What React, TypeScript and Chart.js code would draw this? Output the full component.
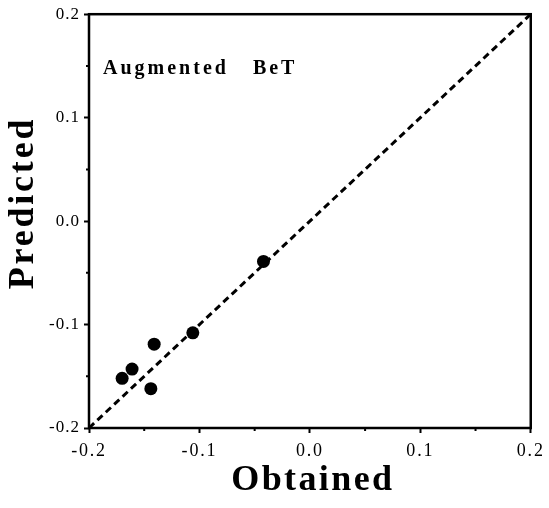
import React, { useEffect, useRef } from 'react';
import { Chart, registerables } from 'chart.js';

Chart.register(...registerables);

// ---- data ----
const obtained = [-0.042, -0.106, -0.141, -0.161, -0.170, -0.144];
const predicted = [-0.039, -0.108, -0.119, -0.143, -0.152, -0.162];
const identityLine = [-0.2, 0.2];
const axisMin = -0.2;
const axisMax = 0.2;
const majorStep = 0.1;
const minorTicks = [-0.15, -0.05, 0.05, 0.15];
const xTitle = 'Obtained';
const yTitle = 'Predicted';
const panelLabel = 'Augmented   BeT';

const SERIF = '"Liberation Serif", "Times New Roman", serif';

function fmt(v: number): string {
  if (Math.abs(v) < 1e-9) return '0.0';
  return v.toFixed(1);
}

function patchLabels(scale: any, spacing: string) {
  if (!scale || scale.__patched) return;
  const orig = scale.drawLabels.bind(scale);
  scale.drawLabels = (area: any) => {
    const c = scale.ctx as CanvasRenderingContext2D;
    c.save();
    (c as any).letterSpacing = spacing;
    orig(area);
    c.restore();
  };
  scale.__patched = true;
}

const decorPlugin = {
  id: 'decor',
  beforeDraw(chart: any) {
    patchLabels(chart.scales.x, '1.8px');
    patchLabels(chart.scales.y, '1px');
  },
  afterDraw(chart: any) {
    const ctx = chart.ctx as CanvasRenderingContext2D;
    const a = chart.chartArea;
    const xs = chart.scales.x;
    const ys = chart.scales.y;
    ctx.save();
    ctx.strokeStyle = '#000';
    ctx.lineWidth = 2.5;
    ctx.strokeRect(a.left, a.top, a.right - a.left, a.bottom - a.top);

    // minor ticks
    ctx.lineWidth = 2;
    ctx.beginPath();
    minorTicks.forEach((v) => {
      const px = xs.getPixelForValue(v);
      ctx.moveTo(px, a.bottom);
      ctx.lineTo(px, a.bottom + 3);
      const py = ys.getPixelForValue(v);
      ctx.moveTo(a.left, py);
      ctx.lineTo(a.left - 3, py);
    });
    ctx.stroke();

    // axis titles
    ctx.fillStyle = '#000';
    ctx.font = `bold 36px ${SERIF}`;
    (ctx as any).letterSpacing = '2.4px';
    ctx.textAlign = 'center';
    ctx.textBaseline = 'alphabetic';
    ctx.fillText(xTitle, (a.left + a.right) / 2 + 3, 490);

    ctx.save();
    ctx.translate(33, 203);
    ctx.rotate(-Math.PI / 2);
    (ctx as any).letterSpacing = '2.8px';
    ctx.fillText(yTitle, 0, 0);
    ctx.restore();

    // panel label
    ctx.font = `bold 20px ${SERIF}`;
    (ctx as any).letterSpacing = '3px';
    ctx.textAlign = 'left';
    ctx.fillText(panelLabel, 103, 74);
    ctx.restore();
  },
};

export default function App() {
  const canvasRef = useRef<HTMLCanvasElement | null>(null);

  useEffect(() => {
    const canvas = canvasRef.current;
    if (!canvas) return;
    const points = obtained.map((x, i) => ({ x, y: predicted[i] }));
    const linePts = identityLine.map((v) => ({ x: v, y: v }));

    const chart = new Chart(canvas, {
      type: 'scatter',
      data: {
        datasets: [
          {
            label: 'identity',
            data: linePts,
            showLine: true,
            borderColor: '#000',
            borderWidth: 3,
            borderDash: [7, 4.5],
            pointRadius: 0,
            fill: false,
          } as any,
          {
            label: 'points',
            data: points,
            pointRadius: 6.5,
            pointBackgroundColor: '#000',
            pointBorderWidth: 0,
            backgroundColor: '#000',
            borderColor: '#000',
          } as any,
        ],
      },
      options: {
        animation: false,
        responsive: false,
        devicePixelRatio: 1,
        events: [],
        layout: { padding: { top: 13, right: 16, left: 0, bottom: 0 } },
        plugins: {
          legend: { display: false },
          tooltip: { enabled: false },
          title: { display: false },
        },
        scales: {
          x: {
            type: 'linear',
            min: axisMin,
            max: axisMax,
            border: { display: false },
            grid: {
              drawOnChartArea: false,
              drawTicks: true,
              tickLength: 5,
              tickWidth: 2,
              tickColor: '#000',
            },
            ticks: {
              stepSize: majorStep,
              color: '#000',
              padding: 7,
              maxRotation: 0,
              font: { family: SERIF, size: 18 },
              callback: (v: any) => fmt(Number(v)),
            },
            afterFit: (s: any) => {
              s.height = 80;
            },
          },
          y: {
            type: 'linear',
            min: axisMin,
            max: axisMax,
            border: { display: false },
            grid: {
              drawOnChartArea: false,
              drawTicks: true,
              tickLength: 5,
              tickWidth: 2,
              tickColor: '#000',
            },
            ticks: {
              stepSize: majorStep,
              color: '#000',
              padding: 4,
              font: { family: SERIF, size: 17 },
              callback: (v: any) => fmt(Number(v)),
            },
            afterFit: (s: any) => {
              s.width = 89;
            },
          },
        },
      } as any,
      plugins: [decorPlugin],
    });
    return () => chart.destroy();
  }, []);

  return (
    <div style={{ position: 'absolute', left: 0, top: 0, width: 549, height: 508, background: '#fff' }}>
      <canvas ref={canvasRef} width={549} height={508} style={{ display: 'block' }} />
    </div>
  );
}
